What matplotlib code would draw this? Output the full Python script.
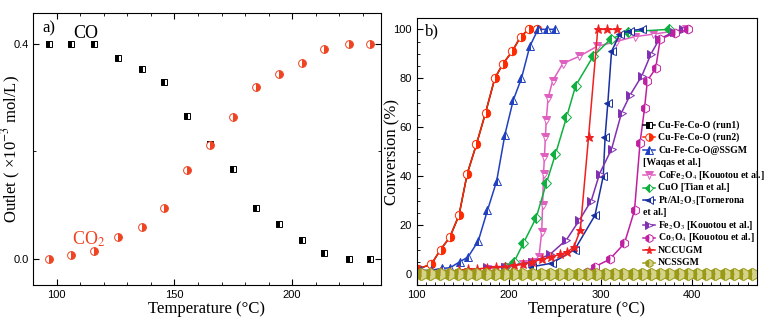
import numpy as np
import matplotlib
matplotlib.use("Agg")
import matplotlib.pyplot as plt
from matplotlib.ticker import MultipleLocator

plt.rcParams['font.family'] = ['Liberation Sans', 'DejaVu Sans']
plt.rcParams['mathtext.fontset'] = 'stix'

#################### Panel a) outlet concentrations ####################

temp_a = [96.5, 106, 116, 126, 136, 145.5, 155.5, 165, 175, 184.5, 194.5, 204, 213.5, 224, 233]
co_out = [0.400, 0.400, 0.400, 0.375, 0.353, 0.330, 0.266, 0.213, 0.167, 0.095, 0.065, 0.034, 0.011, 0.000, 0.000]
co2_out = [0.000, 0.006, 0.015, 0.040, 0.060, 0.095, 0.165, 0.211, 0.265, 0.320, 0.345, 0.364, 0.390, 0.400, 0.400]

#################### Panel b) conversion curves ####################

run1_t = [101, 116, 126, 136, 146, 155, 165, 175, 185, 194, 204, 213, 222, 231]
run1_y = [2, 4, 10, 15, 24, 41, 53, 66, 80, 86, 91, 97, 100, 100]
run2_t = [101, 116, 126, 136, 146, 155, 165, 175, 185, 194, 204, 213, 222, 231]
run2_y = [2, 4, 10, 15, 24, 41, 53, 66, 80, 86, 91, 97, 100, 100]
ssgm_t = [105, 116, 127, 136, 147, 156, 167, 177, 187, 196, 205, 214, 223, 232, 242, 251]
ssgm_y = [1.5, 1.5, 2.3, 2.5, 5, 7, 13.5, 26, 38, 57, 71, 80, 93, 100, 100, 100]
cofe_t = [176, 196, 216, 226, 233, 236, 237, 238, 239, 240, 241, 243, 248, 259, 277, 296, 317, 337, 357, 393]
cofe_y = [2, 3, 4, 5, 7, 17, 28, 41, 48, 56, 63, 72, 79, 86, 89, 93, 95, 97, 98, 100]
cuo_t = [196, 206, 216, 230, 241, 251, 263, 273, 292, 311, 330, 375]
cuo_y = [3, 5, 12.5, 23, 37, 49, 64, 77, 89, 96, 99, 100]
pt_t = [226, 247, 272, 294, 303, 305, 308, 312, 321, 332, 345]
pt_y = [3, 4.4, 10, 24, 40, 56, 70, 91, 98, 99.5, 100]
fe_t = [176, 196, 226, 245, 263, 277, 290, 299, 312, 323, 332, 345, 355, 364, 380, 390]
fe_y = [3, 3, 5, 8, 14, 22, 30, 41, 51, 66, 73, 81, 90, 96, 99, 100]
co3_t = [285, 294, 310, 326, 337, 343, 348, 351, 360, 365, 381, 395]
co3_y = [1, 3, 6, 12.5, 26, 53.5, 68, 79, 84, 96, 98.5, 100]
nccu_t = [105, 116, 126, 136, 146, 156, 166, 176, 186, 196, 206, 216, 226, 236, 246, 256, 264, 271, 278, 287, 297, 307, 318]
nccu_y = [0, 1, 1, 1, 1.5, 2, 2, 2.5, 3, 3, 3.5, 4, 5, 6, 7, 8, 9, 11, 18, 56, 100, 100, 100]
ncss_t = [105, 115, 125, 135, 145, 155, 165, 175, 185, 195, 205, 215, 225, 235, 245, 255, 265, 275, 285,
          295, 305, 315, 325, 335, 345, 355, 365, 375, 385, 395, 405, 415, 425, 435, 445, 455, 465]
ncss_y = [0, 0, 0, 0, 0, 0, 0, 0, 0, 0, 0, 0, 0, 0, 0, 0, 0, 0, 0,
          0, 0, 0, 0, 0, 0, 0, 0, 0, 0, 0, 0, 0, 0, 0, 0, 0, 0]

legend_labels = ['Cu-Fe-Co-O (run1)', 'Cu-Fe-Co-O (run2)', 'Cu-Fe-Co-O@SSGM', '[Waqas et al.]',
                 'CoFe$_2$O$_4$ [Kouotou et al.]', 'CuO [Tian et al.]', 'Pt/Al$_2$O$_3$[Tornerona',
                 'et al.]', 'Fe$_2$O$_3$ [Kouotou et al.]', 'Co$_3$O$_4$ [Kouotou et al.]',
                 'NCCUGM', 'NCSSGM']

serif = 'Liberation Serif'
red = '#ee4422'

fig = plt.figure(figsize=(7.67, 3.26), dpi=100)
ax1 = fig.add_axes([0.0434, 0.1258, 0.4529, 0.8344])
ax2 = fig.add_axes([0.5433, 0.1258, 0.4433, 0.8180])

################ Panel a ################

ax1.plot(temp_a, co_out, ls='none', marker='s', ms=4.6, fillstyle='left',
         color='black', markerfacecoloralt='white', mew=0.7)
ax1.plot(temp_a, co2_out, ls='none', marker='o', ms=5.6, fillstyle='right',
         color=red, markerfacecoloralt='white', mew=0.7)
ax1.set_xlim(90, 237.6)
ax1.set_ylim(-0.049, 0.458)
ax1.xaxis.set_major_locator(MultipleLocator(50))
ax1.xaxis.set_minor_locator(MultipleLocator(10))
ax1.yaxis.set_major_locator(MultipleLocator(0.4))
ax1.yaxis.set_minor_locator(MultipleLocator(0.2))
ax1.tick_params(which='both', direction='in', top=True, right=True, labelsize=8)
ax1.tick_params(which='major', length=4)
ax1.tick_params(which='minor', length=2.5)
ax1.set_xlabel('Temperature (°C)', family=serif, fontsize=12, labelpad=1)
ax1.set_ylabel('Outlet ( ×10$^{-3}$ mol/L)', family=serif, fontsize=12)
ax1.yaxis.set_label_coords(-0.030, 0.5)
ax1.text(0.025, 0.972, 'a)', transform=ax1.transAxes, family=serif, fontsize=12, va='top')
ax1.text(107, 0.411, 'CO', family=serif, fontsize=13)
ax1.text(106.4, 0.027, 'CO$_2$', family=serif, fontsize=13, color=red)

################ Panel b ################

# (x, y, colour, marker, fill style, marker size, second face colour)
series = [
    (run1_t, run1_y, 'black', 's', 'left', 5.0, 'white'),
    (run2_t, run2_y, '#ff2a00', 'o', 'right', 6.0, 'white'),
    (ssgm_t, ssgm_y, '#2040c0', '^', 'left', 6.0, 'white'),
    (cofe_t, cofe_y, '#e060c0', 'v', 'top', 6.0, 'white'),
    (cuo_t, cuo_y, '#10b040', 'D', 'left', 5.0, 'white'),
    (pt_t, pt_y, '#1830a0', '<', 'left', 6.0, 'white'),
    (fe_t, fe_y, '#8030b0', '>', 'left', 6.0, 'white'),
    (co3_t, co3_y, '#c020a0', 'h', 'left', 6.5, 'white'),
    (nccu_t, nccu_y, '#ee2020', '*', 'full', 6.5, 'white'),
    (ncss_t, ncss_y, '#9a9a18', 'h', 'left', 9.0, '#d4d488'),
]
for t, y, c, m, fs, ms, alt in series:
    ax2.plot(t, y, color=c, lw=1.1, marker=m, ms=ms, fillstyle=fs,
             markerfacecoloralt=alt, mec=c, mew=0.7)

ax2.set_xlim(100, 470)
ax2.set_ylim(-4.5, 104.5)
ax2.xaxis.set_major_locator(MultipleLocator(100))
ax2.xaxis.set_minor_locator(MultipleLocator(10))
ax2.yaxis.set_major_locator(MultipleLocator(20))
ax2.yaxis.set_minor_locator(MultipleLocator(5))
ax2.tick_params(which='both', direction='in', labelsize=8)
ax2.tick_params(which='major', length=4)
ax2.tick_params(which='minor', length=2.5)
ax2.set_xlabel('Temperature (°C)', family=serif, fontsize=12, labelpad=1)
ax2.set_ylabel('Conversion (%)', family=serif, fontsize=12)
ax2.yaxis.set_label_coords(-0.049, 0.5)
ax2.text(0.024, 0.982, 'b)', transform=ax2.transAxes, family=serif, fontsize=12, va='top')

# hand-placed legend so the wrapped entries line up under the handles
row_y = 0.60
marker_rows = [0, 1, 2, None, 3, 4, 5, None, 6, 7, 8, 9]
for i, label in enumerate(legend_labels):
    y = row_y - i * 0.0469
    k = marker_rows[i]
    if k is None:
        ax2.text(0.666, y, label, transform=ax2.transAxes, family=serif, fontsize=7,
                 fontweight='bold', va='center')
        continue
    t, yy, c, m, fs, ms, alt = series[k]
    ax2.plot([0.666, 0.702], [y, y], transform=ax2.transAxes, color=c, lw=1.1, clip_on=False)
    ax2.plot([0.684], [y], transform=ax2.transAxes, color=c, marker=m, ms=min(ms, 6.5) * 0.9,
             fillstyle=fs, markerfacecoloralt=alt, mec=c, mew=0.7, clip_on=False)
    ax2.text(0.71, y, label, transform=ax2.transAxes, family=serif, fontsize=7,
             fontweight='bold', va='center')

fig.savefig('out.png', dpi=100)
